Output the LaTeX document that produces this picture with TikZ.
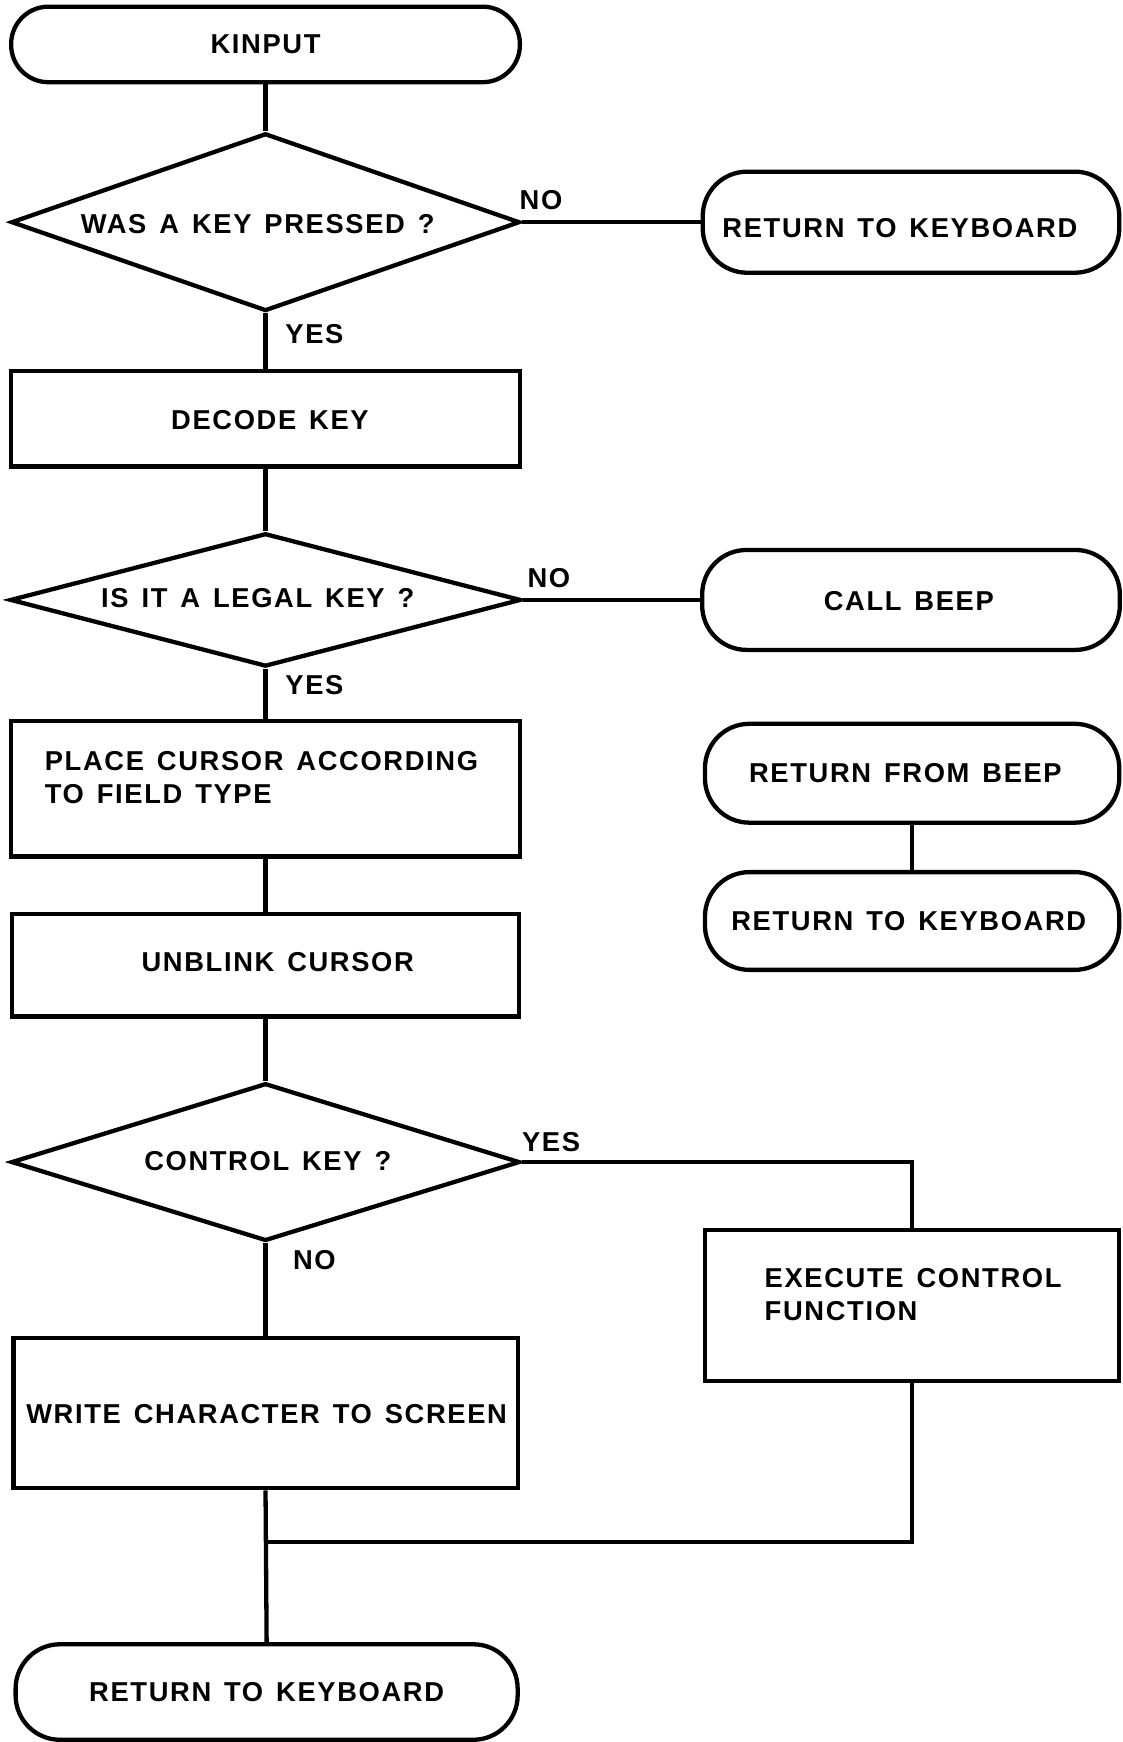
\documentclass[tikz,border=0pt]{standalone}
\usepackage{fontspec}
\setmainfont{Liberation Sans}[LetterSpace=6,WordSpace=1.4]
\usetikzlibrary{shapes.geometric}
\begin{document}
\begin{tikzpicture}[x=0.02cm,y=-0.02cm,
  every node/.style={font=\fontsize{14}{17}\selectfont\bfseries},
  conn/.style={line width=2.2pt},
  term/.style={draw,line width=2.2pt,rounded corners=0.8cm,inner sep=0pt},
  procbox/.style={draw,line width=2.2pt,inner sep=0pt},
  decision/.style={draw,line width=2.2pt,diamond,aspect=3,inner sep=0pt},
  lbl/.style={inner sep=0pt}]
\useasboundingbox (0,0) rectangle (1010,1568);
% left column
\node[term,rounded corners=0.67cm,minimum width=9.16cm,minimum height=1.36cm] (kin) at (239,40) {KINPUT};
\node[decision,minimum width=9.16cm,minimum height=3.2cm] (d1) at (239,200) {};
\node[lbl] (t1) at (232,202) {WAS A KEY PRESSED ?};
\node[procbox,minimum width=9.16cm,minimum height=1.72cm] (dec) at (239,377) {};
\node[lbl] (t2) at (243,378) {DECODE KEY};
\node[decision,minimum width=9.2cm,minimum height=2.4cm] (d2) at (239,540) {};
\node[lbl] (t3) at (232,538) {IS IT A LEGAL KEY ?};
\node[procbox,minimum width=9.16cm,minimum height=2.44cm] (place) at (239,710) {};
\node[lbl,anchor=west,align=left] (t4) at (40,700) {PLACE CURSOR ACCORDING\\TO FIELD TYPE};
\node[procbox,minimum width=9.12cm,minimum height=1.84cm] (unb) at (239,869) {};
\node[lbl] (t5) at (250,866) {UNBLINK CURSOR};
\node[decision,minimum width=9.16cm,minimum height=2.84cm] (d3) at (239,1046) {};
\node[lbl] (t6) at (241,1045) {CONTROL KEY ?};
\node[procbox,minimum width=9.08cm,minimum height=2.7cm] (wr) at (239,1272) {};
\node[lbl] (t7) at (240,1273) {WRITE CHARACTER TO SCREEN};
\node[term,minimum width=9.04cm,minimum height=1.72cm] (rtk3) at (240,1523) {RETURN TO KEYBOARD};
% right column
\node[term,minimum width=7.5cm,minimum height=1.82cm] (rtk1) at (820,200) {};
\node[lbl] (t8) at (810,205) {RETURN TO KEYBOARD};
\node[term,minimum width=7.52cm,minimum height=1.8cm] (beep) at (820,540) {};
\node[lbl] (t9) at (818,541) {CALL BEEP};
\node[term,minimum width=7.46cm,minimum height=1.78cm] (rfb) at (821,696) {};
\node[lbl] (t10) at (815,696) {RETURN FROM BEEP};
\node[term,minimum width=7.46cm,minimum height=1.76cm] (rtk2) at (821,829) {};
\node[lbl] (t11) at (818,829) {RETURN TO KEYBOARD};
\node[procbox,minimum width=7.46cm,minimum height=2.72cm] (exec) at (821,1175) {};
\node[lbl,anchor=west,align=left] (t12) at (688,1165) {EXECUTE CONTROL\\FUNCTION};
% labels
\node[lbl] (l1) at (487,180) {NO};
\node[lbl] (l2) at (283,301) {YES};
\node[lbl] (l3) at (494,520) {NO};
\node[lbl] (l4) at (283,617) {YES};
\node[lbl] (l5) at (496,1028) {YES};
\node[lbl] (l6) at (283,1134) {NO};
% connectors
\coordinate (j) at (239,1388);
\draw[conn] (kin) -- (d1.north);
\draw[conn] (d1.east) -- (rtk1.west);
\draw[conn] (d1.south) -- (dec.north);
\draw[conn] (dec.south) -- (d2.north);
\draw[conn] (d2.east) -- (beep.west);
\draw[conn] (d2.south) -- (place.north);
\draw[conn] (place.south) -- (unb.north);
\draw[conn] (unb.south) -- (d3.north);
\draw[conn] (d3.east) -| (exec.north);
\draw[conn] (d3.south) -- (wr.north);
\draw[conn] (wr.south) -- (rtk3.north);
\draw[conn] (exec.south) |- (j);
\draw[conn] (rfb.south) -- (rtk2.north);
\end{tikzpicture}
\end{document}
